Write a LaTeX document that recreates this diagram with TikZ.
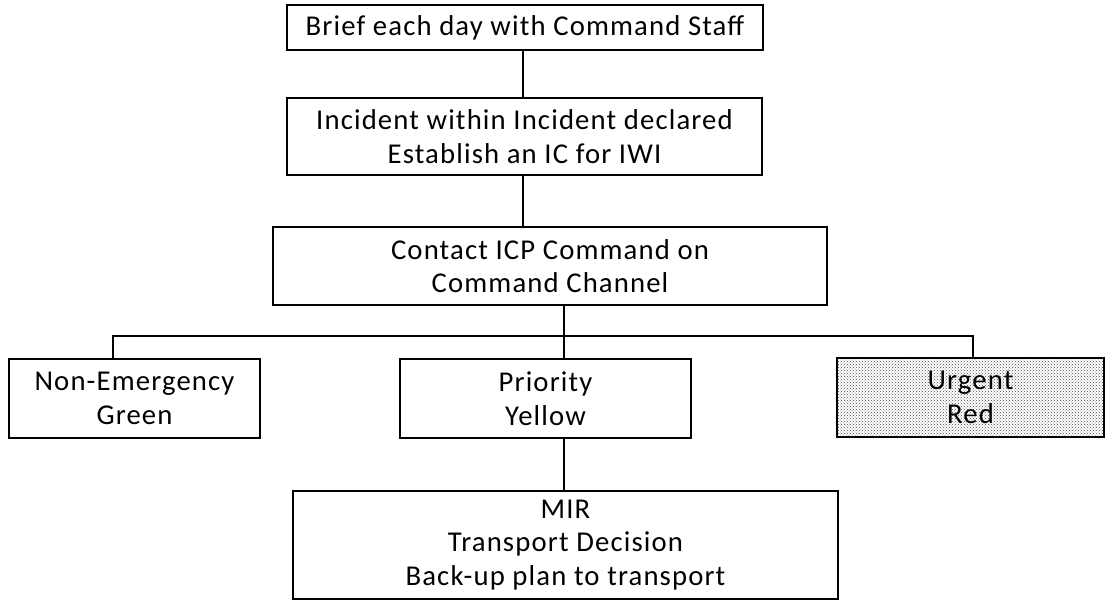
\documentclass[tikz,border=0pt]{standalone}
\usepackage{fontspec}
\setmainfont[LetterSpace=4]{Carlito}
\usetikzlibrary{patterns}
\tikzset{
  stepbox/.style={draw,line width=1.3pt,align=center,inner sep=0pt,font=\fontsize{28.7}{33.5}\selectfont},
  link/.style={line width=1.3pt}
}
\begin{document}
\begin{tikzpicture}[x=1pt,y=-1pt]
  \useasboundingbox (0,0) rectangle (1106,603);
  \node[stepbox,minimum width=476pt,minimum height=45pt] (brief) at (525,27.5) {Brief each day with Command Staff};
  \node[stepbox,minimum width=475pt,minimum height=77pt] (iwi) at (524.5,136.5) {Incident within Incident declared\\Establish an IC for IWI};
  \node[stepbox,minimum width=554pt,minimum height=78pt] (icp) at (550,266) {Contact ICP Command on\\Command Channel};
  \node[stepbox,minimum width=251pt,minimum height=79pt] (green) at (134.5,398.5) {Non-Emergency\\Green};
  \node[stepbox,minimum width=291pt,minimum height=79pt] (yellow) at (545.5,398.5) {Priority\\Yellow};
  \node[stepbox,minimum width=267pt,minimum height=79pt,pattern=crosshatch dots,pattern color=black!70] (red) at (970.5,397.5) {Urgent\\Red};
  \node[stepbox,minimum width=545pt,minimum height=108pt] (mir) at (565.5,545) {MIR\\Transport Decision\\Back-up plan to transport};
  % bus
  \coordinate (split) at (564,336);
  \coordinate (busl) at (113,336);
  \coordinate (busr) at (973,336);
  \draw[link] (brief.south -| 523,0) -- (iwi.north -| 523,0);
  \draw[link] (iwi.south -| 523,0) -- (icp.north -| 523,0);
  \draw[link] (icp.south -| split) -- (yellow.north -| split);
  \draw[link] (green.north -| busl) -- (busl) -- (busr) -- (red.north -| busr);
  \draw[link] (yellow.south -| split) -- (mir.north -| split);
\end{tikzpicture}
\end{document}
